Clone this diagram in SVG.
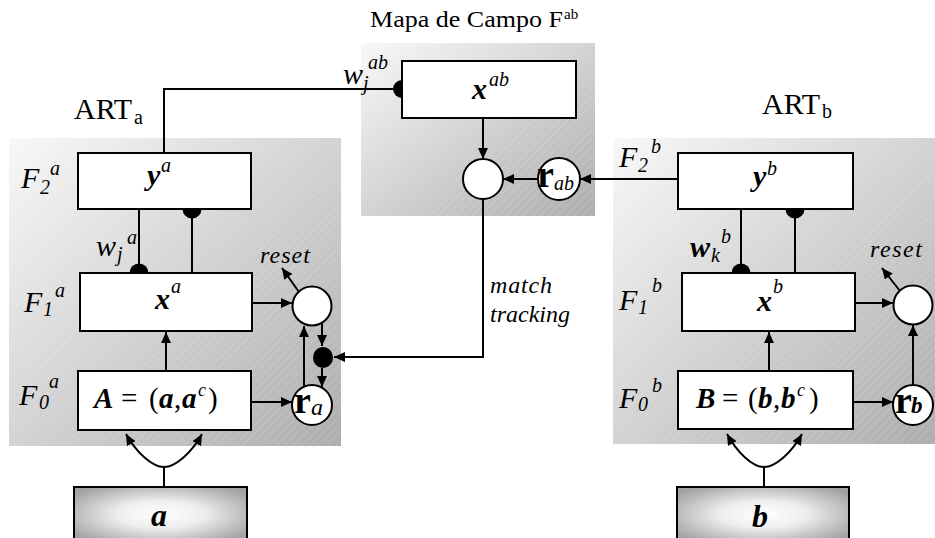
<svg xmlns="http://www.w3.org/2000/svg" width="935" height="538" viewBox="0 0 935 538">
<defs>
<linearGradient id="panelGrad" x1="0" y1="0" x2="1" y2="1">
<stop offset="0" stop-color="#f8f8f8"/>
<stop offset="1" stop-color="#adadad"/>
</linearGradient>
<pattern id="hatch" width="6" height="6" patternUnits="userSpaceOnUse" patternTransform="rotate(45)">
<line x1="0" y1="0" x2="0" y2="6" stroke="#ffffff" stroke-width="0.8" stroke-opacity="0.35"/>
</pattern>
<radialGradient id="inGrad" cx="0.5" cy="0.5" r="0.62">
<stop offset="0" stop-color="#ffffff"/>
<stop offset="0.4" stop-color="#eeeeee"/>
<stop offset="1" stop-color="#a2a2a2"/>
</radialGradient>
<marker id="arr" markerWidth="12" markerHeight="10" refX="11" refY="5" orient="auto" markerUnits="userSpaceOnUse">
<path d="M0,0 L11,5 L0,10 z" fill="#000"/>
</marker>
</defs>
<style>
.t{font-family:"Liberation Serif","Times New Roman",serif;fill:#000}
.i{font-style:italic}
.b{font-weight:bold}
.bi{font-weight:bold;font-style:italic}
.box{fill:#fff;stroke:#000;stroke-width:2}
.circ{fill:#fff;stroke:#000;stroke-width:2}
.in{fill:url(#inGrad);stroke:#000;stroke-width:2}
.ln{fill:none;stroke:#000;stroke-width:2}
.ar{fill:none;stroke:#000;stroke-width:2;marker-end:url(#arr)}
.dot{fill:#000}
.panel{fill:url(#panelGrad)}
.hatch{fill:url(#hatch)}
</style>

<g id="panels">
<rect class="panel" x="9" y="138" width="332" height="308"/>
<rect class="hatch" x="9" y="138" width="332" height="308"/>
<rect class="panel" x="361" y="43" width="234" height="173"/>
<rect class="hatch" x="361" y="43" width="234" height="173"/>
<rect class="panel" x="613" y="138" width="322" height="306"/>
<rect class="hatch" x="613" y="138" width="322" height="306"/>
</g>

<g id="labels">
<text class="t" font-size="24"><tspan x="370" y="27" textLength="193" lengthAdjust="spacingAndGlyphs">Mapa de Campo F</tspan><tspan x="564" y="19" font-size="15">ab</tspan></text>
<text class="t" font-size="30"><tspan x="74" y="119">ART</tspan><tspan x="134" y="124" font-size="20">a</tspan></text>
<text class="t" font-size="30"><tspan x="762" y="114">ART</tspan><tspan x="822" y="118" font-size="20">b</tspan></text>
<text class="t i" font-size="30"><tspan x="21" y="188">F</tspan><tspan x="40" y="194" font-size="20">2</tspan><tspan x="50" y="175" font-size="20">a</tspan></text>
<text class="t i" font-size="30"><tspan x="24" y="312">F</tspan><tspan x="43" y="316" font-size="20">1</tspan><tspan x="55" y="297" font-size="20">a</tspan></text>
<text class="t i" font-size="30"><tspan x="19" y="405">F</tspan><tspan x="39" y="409" font-size="20">0</tspan><tspan x="49" y="388" font-size="20">a</tspan></text>
<text class="t i" font-size="30"><tspan x="619" y="167">F</tspan><tspan x="638" y="172" font-size="20">2</tspan><tspan x="651" y="153" font-size="20">b</tspan></text>
<text class="t i" font-size="30"><tspan x="619" y="310">F</tspan><tspan x="638" y="314" font-size="20">1</tspan><tspan x="652" y="292" font-size="20">b</tspan></text>
<text class="t i" font-size="30"><tspan x="619" y="408">F</tspan><tspan x="638" y="411" font-size="20">0</tspan><tspan x="652" y="392" font-size="20">b</tspan></text>
<text class="t i" font-size="30"><tspan x="96" y="256">w</tspan><tspan x="117" y="261" font-size="20">j</tspan><tspan x="127" y="244" font-size="20">a</tspan></text>
<text class="t i" font-size="30"><tspan x="343" y="84">w</tspan><tspan x="363" y="90" font-size="20">j</tspan><tspan x="368" y="69" font-size="20">ab</tspan></text>
<text class="t" font-size="30"><tspan class="bi" x="690" y="257">w</tspan><tspan class="i" x="711" y="262" font-size="20">k</tspan><tspan class="i" x="721" y="243" font-size="20">b</tspan></text>
<text class="t i" font-size="24" x="260" y="263" textLength="50" lengthAdjust="spacing">reset</text>
<text class="t i" font-size="24" x="870" y="257" textLength="52" lengthAdjust="spacing">reset</text>
<text class="t i" font-size="24" x="490" y="293" textLength="62" lengthAdjust="spacing">match</text>
<text class="t i" font-size="24" x="490" y="322" textLength="80" lengthAdjust="spacing">tracking</text>
</g>

<g id="node-ya">
<rect class="box" x="78" y="153" width="173" height="56"/>
<text class="t" font-size="30"><tspan class="bi" x="147" y="185">y</tspan><tspan class="i" x="161" y="172" font-size="20">a</tspan></text>
</g>
<g id="node-xa">
<rect class="box" x="80" y="273" width="172" height="58"/>
<text class="t" font-size="30"><tspan class="bi" x="155" y="309">x</tspan><tspan class="i" x="171" y="293" font-size="20">a</tspan></text>
</g>
<g id="node-A">
<rect class="box" x="78" y="371" width="173" height="59"/>
<text class="t" font-size="29"><tspan class="bi" x="94" y="408">A</tspan><tspan x="121" y="408">=</tspan><tspan x="149" y="408">(</tspan><tspan class="bi" x="159" y="408">a</tspan><tspan x="174" y="408">,</tspan><tspan class="bi" x="182" y="408">a</tspan><tspan class="i" x="198" y="396" font-size="18">c</tspan><tspan x="208" y="408">)</tspan></text>
</g>
<g id="node-reset-a">
<circle class="circ" cx="312" cy="306" r="19.5"/>
</g>
<g id="node-ra">
<circle class="circ" cx="312" cy="405" r="20"/>
<text class="t"><tspan class="b" x="294" y="413" font-size="38">r</tspan><tspan class="i" x="311" y="415" font-size="24">a</tspan></text>
</g>
<g id="node-gate">
<ellipse class="dot" cx="323" cy="357.5" rx="10" ry="10.5"/>
</g>
<g id="node-input-a">
<rect class="in" x="74" y="487" width="173" height="55"/>
<text class="t bi" font-size="32" x="151" y="526">a</text>
</g>

<g id="node-xab">
<rect class="box" x="402" y="61" width="174" height="57"/>
<text class="t" font-size="30"><tspan class="bi" x="472" y="99">x</tspan><tspan class="i" x="489" y="86" font-size="20">ab</tspan></text>
</g>
<g id="node-match">
<circle class="circ" cx="483" cy="179" r="20"/>
</g>
<g id="node-rab">
<circle class="circ" cx="559" cy="179" r="21"/>
<text class="t"><tspan class="b" x="537" y="187" font-size="38">r</tspan><tspan class="i" x="554" y="190" font-size="20">ab</tspan></text>
</g>

<g id="node-yb">
<rect class="box" x="678" y="153" width="175" height="56"/>
<text class="t" font-size="30"><tspan class="bi" x="753" y="186">y</tspan><tspan class="i" x="767" y="175" font-size="20">b</tspan></text>
</g>
<g id="node-xb">
<rect class="box" x="682" y="273" width="173" height="58"/>
<text class="t" font-size="30"><tspan class="bi" x="757" y="311">x</tspan><tspan class="i" x="773" y="293" font-size="20">b</tspan></text>
</g>
<g id="node-B">
<rect class="box" x="678" y="371" width="175" height="58"/>
<text class="t" font-size="29"><tspan class="bi" x="696" y="408">B</tspan><tspan x="722" y="408">=</tspan><tspan x="748" y="408">(</tspan><tspan class="bi" x="758" y="408">b</tspan><tspan x="773" y="408">,</tspan><tspan class="bi" x="781" y="408">b</tspan><tspan class="i" x="797" y="396" font-size="18">c</tspan><tspan x="809" y="408">)</tspan></text>
</g>
<g id="node-reset-b">
<circle class="circ" cx="913" cy="305" r="19.5"/>
</g>
<g id="node-rb">
<circle class="circ" cx="913" cy="405" r="20"/>
<text class="t"><tspan class="b" x="895" y="413" font-size="38">r</tspan><tspan class="bi" x="911" y="413" font-size="23">b</tspan></text>
</g>
<g id="node-input-b">
<rect class="in" x="677" y="487" width="172" height="55"/>
<text class="t bi" font-size="32" x="752" y="527">b</text>
</g>

<g id="connectors">
<path class="ln" d="M164,153 V89 H394"/>
<path class="dot" d="M402,80 A9,9 0 0 0 402,98 Z"/>
<path class="ln" d="M139,209 V273"/>
<path class="dot" d="M129.5,273 A9.5,9.5 0 0 1 148.5,273 Z"/>
<path class="ln" d="M192,209 V273"/>
<path class="dot" d="M182.5,209 A9.5,9.5 0 0 0 201.5,209 Z"/>
<path class="ar" d="M166,371 V332"/>
<path class="ar" d="M252,303 H292"/>
<path class="ar" d="M251,402 H292"/>
<path class="ar" d="M304,387 V326"/>
<path class="ar" d="M322,322 V346"/>
<path class="ar" d="M322,368 V387"/>
<path class="ar" d="M299,292 L282,268"/>
<path class="ln" d="M164,487 V467"/>
<path class="ar" d="M164,467 C152,467 136,452 126,434"/>
<path class="ar" d="M164,467 C176,467 192,452 202,434"/>

<path class="ar" d="M483,118 V159"/>
<path class="ar" d="M538,179 H503"/>
<path class="ar" d="M678,179 H580"/>
<path class="ar" d="M483,199 V357 H334"/>

<path class="ln" d="M741,209 V273"/>
<path class="dot" d="M731.5,273 A9.5,9.5 0 0 1 750.5,273 Z"/>
<path class="ln" d="M795,209 V273"/>
<path class="dot" d="M785.5,209 A9.5,9.5 0 0 0 804.5,209 Z"/>
<path class="ar" d="M769,371 V332"/>
<path class="ar" d="M855,303 H893"/>
<path class="ar" d="M853,402 H893"/>
<path class="ar" d="M913,385 V325"/>
<path class="ar" d="M900,291 L882,268"/>
<path class="ln" d="M764,487 V467"/>
<path class="ar" d="M764,467 C752,467 737,452 727,434"/>
<path class="ar" d="M764,467 C776,467 792,452 802,434"/>
</g>
</svg>
